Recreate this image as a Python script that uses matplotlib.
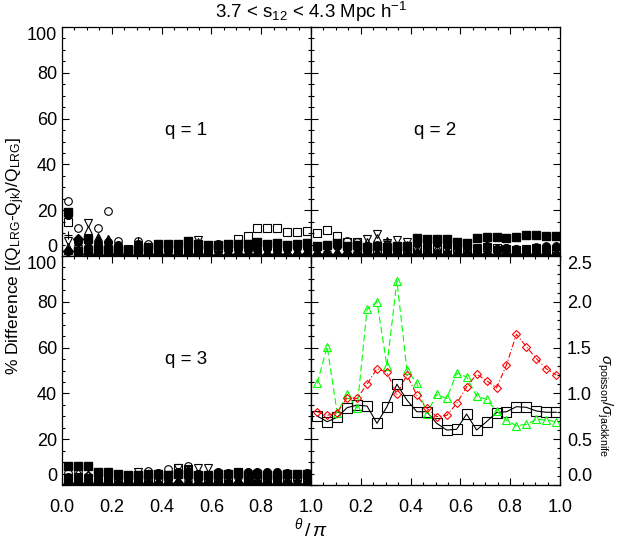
import numpy as np
import matplotlib
matplotlib.use('Agg')
import matplotlib.pyplot as plt
from matplotlib.ticker import MultipleLocator

plt.rcParams['font.family'] = ['Liberation Sans', 'DejaVu Sans']
plt.rcParams['mathtext.fontset'] = 'custom'
plt.rcParams['mathtext.rm'] = 'Liberation Sans'
plt.rcParams['mathtext.it'] = 'Liberation Sans:italic'
plt.rcParams['mathtext.bf'] = 'Liberation Sans:bold'

# theta / pi bin centres
theta = [0.025, 0.065, 0.105, 0.145, 0.185, 0.225, 0.265, 0.305, 0.345, 0.385,
         0.425, 0.465, 0.505, 0.545, 0.585, 0.625, 0.665, 0.705, 0.745, 0.785,
         0.825, 0.865, 0.905, 0.945, 0.985]

# q = 1 : percent differences
q1_fsq = [19.3, 2.3, 7.3, 3.0, 2.5, 3.0, 2.6, 3.0, 4.1, 5.4, 5.4, 5.4, 6.7, 5.4, 4.8,
          5.0, 5.4, 5.2, 5.4, 6.1, 5.4, 5.6, 5.0, 5.4, 5.8]
q1_fci = [17.9, 5.9, 4.0, 4.5, 5.9, 4.8, 2.0, 5.2, 3.0, 3.5, 3.2, 3.0, 3.6, 3.0, 3.2,
          5.4, 3.3, 3.0, 3.4, 3.2, 3.6, 3.0, 3.5, 3.8, 4.0]
q1_ftr = [2.6, 3.0, 2.0, 7.3, 7.3, 2.5, 1.5, 2.0, 1.8, 1.5, 2.0, 1.6, 1.8, 2.0, 1.5,
          1.7, 1.8, 1.6, 2.0, 1.8, 1.6, 1.9, 1.7, 1.5, 1.8]
q1_fdi = [2.0, 7.4, 0.8, 0.6, 0.5, 0.8, 0.5, 0.6, 0.5, 0.7, 0.5, 0.6, 0.5, 0.8, 0.5,
          0.6, 0.5, 0.7, 0.5, 0.6, 0.5, 0.8, 0.6, 0.5, 0.7]
q1_oci = [24.0, 12.1, 3.0, 12.1, 19.8, 6.5, 2.5, 6.7, 5.4, 3.0, 2.5, 3.0, 2.8, 3.5, 2.5,
          3.0, 2.6, 3.2, 2.8, 3.0, 3.5, 2.8, 3.0, 3.3, 3.5]
q1_osq = [15.0, 2.0, 2.5, 3.0, 2.0, 2.5, 3.0, 2.5, 2.0, 3.0, 3.5, 3.0, 3.0, 2.5, 3.0,
          3.5, 4.0, 7.4, 8.7, 12.1, 12.4, 12.4, 10.6, 10.6, 11.0]
q1_otr = [4.0, 3.0, 11.4, 8.3, 4.0, 3.0, 2.0, 2.5, 3.0, 2.0, 1.5, 2.0, 2.5, 6.0, 2.0,
          1.5, 2.0, 1.5, 2.0, 2.5, 2.0, 1.5, 2.0, 2.5, 2.0]
q1_oit = [6.7, 3.0, 14.5, 4.0, 3.0, 2.0, 2.5, 3.0, 2.0, 2.5, 3.0, 2.0, 3.0, 7.0, 2.5,
          2.0, 3.0, 2.5, 2.0, 2.5, 3.0, 2.0, 2.5, 3.0, 2.5]
q1_plus = [9.2, 2.0, 3.0, 2.5, 2.0, 1.5, 2.0, 6.7, 2.0, 1.5, 2.0, 1.0, 2.0, 2.5, 1.5,
           2.0, 1.0, 1.5, 2.0, 1.5, 1.0, 2.0, 1.5, 1.0, 1.5]

# q = 2
q2_fsq = [4.5, 5.0, 5.5, 4.5, 5.0, 4.0, 4.5, 4.0, 4.5, 4.5, 7.7, 7.3, 7.3, 7.3, 6.2,
          5.5, 7.7, 8.1, 8.1, 8.0, 8.4, 9.2, 9.2, 8.7, 8.7]
q2_fci = [4.0, 5.0, 4.5, 4.0, 4.0, 4.5, 4.0, 3.5, 3.5, 4.0, 5.5, 5.0, 5.5, 5.0, 4.5,
          4.5, 3.0, 4.5, 3.0, 3.5, 3.0, 3.0, 3.5, 4.0, 4.0]
q2_ftr = [2.0, 2.6, 1.8, 2.4, 2.1, 2.7, 1.9, 2.5, 2.2, 2.4, 2.0, 2.6, 1.8, 2.3, 2.1,
          1.9, 2.5, 2.0, 2.4, 1.8, 2.6, 2.1, 1.9, 2.4, 2.0]
q2_fdi = [0.6, 0.8, 0.5, 0.9, 0.6, 0.7, 0.5, 0.8, 0.6, 0.5, 0.7, 0.6, 0.9, 0.5, 0.6,
          0.8, 0.5, 0.7, 0.6, 0.5, 0.8, 0.6, 0.7, 0.5, 0.6]
q2_oci = [3.5, 4.5, 5.0, 6.5, 6.2, 4.0, 5.0, 4.5, 4.0, 3.5, 4.0, 4.5, 4.0, 5.0, 4.0,
          3.5, 3.0, 4.0, 3.0, 3.5, 3.0, 3.0, 4.0, 4.5, 4.5]
q2_osq = [9.9, 11.3, 8.7, 6.0, 6.2, 3.5, 3.0, 2.5, 3.0, 2.5, 3.5, 3.0, 4.0, 3.0, 3.5,
          2.5, 3.0, 4.0, 3.5, 3.0, 2.5, 3.0, 3.5, 3.0, 2.5]
q2_otr = [1.5, 2.5, 2.0, 3.0, 3.5, 6.0, 8.0, 6.7, 4.0, 5.0, 4.0, 4.5, 3.5, 3.0, 2.5,
          2.0, 2.5, 2.0, 1.5, 2.0, 2.5, 3.0, 3.5, 4.0, 4.5]
q2_oit = [2.0, 3.0, 3.5, 4.0, 4.5, 7.3, 9.6, 5.5, 7.0, 6.2, 6.0, 5.5, 6.0, 5.5, 3.0,
          2.5, 3.5, 3.0, 2.5, 2.0, 2.5, 2.0, 3.0, 2.5, 2.0]
q2_plus = [1.5, 2.0, 1.0, 2.5, 1.5, 2.0, 3.0, 6.7, 2.0, 1.5, 2.0, 1.5, 1.0, 2.0, 1.5,
           1.0, 2.0, 1.5, 1.0, 1.5, 2.0, 1.0, 1.5, 2.0, 1.5]

# q = 3
q3_fsq = [8.4, 8.4, 8.4, 5.8, 5.8, 4.8, 4.4, 4.5, 4.6, 5.0, 4.2, 4.8, 5.0, 4.5, 4.3,
          4.8, 4.6, 5.2, 4.5, 4.8, 4.2, 4.5, 4.8, 4.6, 4.8]
q3_fci = [3.5, 3.0, 3.2, 4.0, 3.5, 3.8, 3.0, 3.5, 4.0, 5.1, 3.6, 5.5, 6.0, 5.0, 4.0,
          5.5, 5.3, 4.5, 5.8, 5.5, 5.6, 5.8, 5.1, 5.0, 5.2]
q3_ftr = [1.5, 2.0, 1.8, 2.2, 1.6, 2.0, 1.7, 2.3, 1.9, 1.6, 2.1, 1.8, 2.4, 1.7, 2.0,
          1.9, 1.6, 2.2, 1.8, 2.0, 1.7, 2.1, 1.6, 1.9, 2.0]
q3_fdi = [0.5, 0.7, 0.6, 0.8, 0.5, 0.6, 0.7, 0.5, 0.8, 0.6, 0.5, 0.7, 0.6, 0.5, 0.8,
          0.6, 0.5, 0.7, 0.6, 0.8, 0.5, 0.6, 0.7, 0.5, 0.6]
q3_oci = [5.1, 6.1, 4.0, 3.5, 3.0, 3.5, 2.5, 4.0, 6.1, 4.0, 7.0, 5.5, 8.3, 5.0, 4.0,
          3.5, 3.0, 3.5, 4.0, 3.0, 3.5, 3.0, 2.5, 3.0, 3.5]
q3_osq = [3.0, 3.5, 2.5, 3.0, 2.5, 3.0, 3.5, 3.0, 2.5, 3.0, 4.0, 7.3, 6.5, 4.0, 3.5,
          3.0, 2.5, 5.8, 3.0, 3.5, 3.0, 2.5, 3.0, 3.5, 3.0]
q3_otr = [2.5, 5.5, 4.8, 3.0, 2.5, 2.0, 2.5, 3.0, 2.5, 2.0, 3.0, 2.5, 3.5, 3.0, 2.0,
          2.5, 2.0, 2.5, 3.0, 2.0, 2.5, 2.0, 2.5, 2.0, 2.5]
q3_oit = [2.0, 2.5, 3.0, 2.5, 2.0, 3.0, 2.5, 5.8, 3.0, 3.5, 4.5, 7.3, 7.0, 7.5, 7.3,
          3.0, 2.5, 5.8, 3.0, 2.5, 3.0, 2.0, 2.5, 3.0, 2.5]
q3_plus = [1.5, 2.0, 1.0, 1.5, 2.0, 1.0, 1.5, 2.0, 1.5, 1.0, 2.0, 1.5, 2.5, 1.5, 1.0,
           1.5, 2.0, 1.0, 1.5, 2.0, 1.5, 1.0, 1.5, 2.0, 1.0]

# sigma_poisson / sigma_jackknife
ratio_q1 = [0.753, 0.691, 0.739, 0.844, 0.873, 0.862, 0.673, 0.855, 1.10, 0.928,
            0.80, 0.80, 0.673, 0.60, 0.608, 0.775, 0.60, 0.691, 0.79, 0.80,
            0.855, 0.848, 0.808, 0.794, 0.794]
ratio_q2 = [1.11, 1.51, 0.79, 0.99, 0.837, 1.92, 2.00, 1.30, 2.23, 1.26,
            1.11, 0.78, 0.99, 0.945, 1.22, 1.18, 0.97, 0.935, 0.81, 0.71,
            0.647, 0.663, 0.717, 0.71, 0.69]
ratio_q3 = [0.80, 0.76, 0.79, 0.953, 0.945, 1.10, 1.27, 1.23, 0.99, 1.20,
            0.98, 0.837, 0.746, 0.76, 0.89, 1.07, 1.21, 1.14, 1.06, 1.31,
            1.645, 1.51, 1.38, 1.27, 1.20]

W, H = 623, 545
fig = plt.figure(figsize=(W / 100, H / 100), dpi=100)

x0, xm, x1 = 62 / W, 311 / W, 560 / W
yt, ym, yb = 1 - 27 / H, 1 - 256 / H, 1 - 485 / H
pw, ph = xm - x0, yt - ym

ax1 = fig.add_axes([x0, ym, pw, ph])
ax2 = fig.add_axes([xm, ym, pw, ph])
ax3 = fig.add_axes([x0, yb, pw, ym - yb])
ax4 = fig.add_axes([xm, yb, pw, ym - yb])


def scatter_panel(ax, fsq, fci, ftr, fdi, oci, osq, otr, oit, plus):
    ms = 5.5
    kw = dict(ls='none', color='black')
    ax.plot(theta, fdi, marker='D', ms=ms - 0.5, **kw)
    ax.plot(theta, ftr, marker='^', ms=ms, **kw)
    ax.plot(theta, fci, marker='o', ms=ms, **kw)
    ax.plot(theta, fsq, marker='s', ms=ms, **kw)
    okw = dict(ls='none', color='black', mfc='none', mew=0.8)
    ax.plot(theta, oci, marker='o', ms=ms, **okw)
    ax.plot(theta, osq, marker='s', ms=ms, **okw)
    ax.plot(theta, otr, marker='^', ms=ms, **okw)
    ax.plot(theta, oit, marker='v', ms=ms, **okw)
    ax.plot(theta, plus, marker='+', ms=ms, ls='none', color='black', mew=0.8)


scatter_panel(ax1, q1_fsq, q1_fci, q1_ftr, q1_fdi, q1_oci, q1_osq, q1_otr, q1_oit, q1_plus)
scatter_panel(ax2, q2_fsq, q2_fci, q2_ftr, q2_fdi, q2_oci, q2_osq, q2_otr, q2_oit, q2_plus)
scatter_panel(ax3, q3_fsq, q3_fci, q3_ftr, q3_fdi, q3_oci, q3_osq, q3_otr, q3_oit, q3_plus)

for ax in (ax1, ax2, ax3, ax4):
    ax.set_xlim(0, 1)
    ax.set_ylim(0, 100)
    ax.xaxis.set_minor_locator(MultipleLocator(0.05))
    ax.set_yticks([0, 20, 40, 60, 80, 100])
    ax.yaxis.set_minor_locator(MultipleLocator(5))
    ax.tick_params(which='both', direction='in', top=True, right=True, labelsize=13)
    ax.tick_params(which='major', length=5, width=0.8)
    ax.tick_params(which='minor', length=2.5, width=0.8)
    ax.tick_params(axis='x', pad=10)
    for s in ax.spines.values():
        s.set_linewidth(0.9)

ax1.set_xticks([0, 0.2, 0.4, 0.6, 0.8, 1.0])
ax2.set_xticks([0, 0.2, 0.4, 0.6, 0.8, 1.0])
ax3.set_xticks([0, 0.2, 0.4, 0.6, 0.8, 1.0])
ax3.set_xticklabels(['0.0', '0.2', '0.4', '0.6', '0.8', '1.0'])
ax4.set_xticks([0, 0.2, 0.4, 0.6, 0.8, 1.0])
ax4.set_xticklabels(['', '0.2', '0.4', '0.6', '0.8', '1.0'])

for ax in (ax1, ax2):
    ax.tick_params(labelbottom=False)
for ax in (ax2, ax4):
    ax.tick_params(labelleft=False)
ax4.tick_params(right=False, which='both')

# keep end labels inside the panels
for ax in (ax1, ax3):
    lab = ax.get_yticklabels()
    lab[0].set_va('bottom')
    lab[-1].set_va('top')

axr = ax4.twinx()
axr.set_position([xm, yb, pw, ym - yb])
axr.set_ylim(0, 2.5)
axr.set_yticks([0.0, 0.5, 1.0, 1.5, 2.0, 2.5])
axr.set_yticklabels(['0.0', '0.5', '1.0', '1.5', '2.0', '2.5'])
axr.yaxis.set_minor_locator(MultipleLocator(0.1))
axr.tick_params(which='both', direction='in', labelsize=13, pad=5)
axr.tick_params(which='major', length=5, width=0.8)
axr.tick_params(which='minor', length=2.5, width=0.8)
lab = axr.get_yticklabels()
lab[0].set_va('bottom')
lab[-1].set_va('top')

axr.plot(theta, ratio_q1, color='black', ls='-', lw=0.8, marker='s', ms=6.5,
         mfc='none', mec='black', mew=0.8)
axr.plot(theta, ratio_q2, color='#00ff00', ls=(0, (6, 3)), lw=0.8, marker='^', ms=6,
         mfc='none', mec='#00ff00', mew=0.8)
axr.plot(theta, ratio_q3, color='#ff0000', ls=(0, (5, 2, 1, 2)), lw=0.8, marker='D',
         ms=4.5, mfc='none', mec='#ff0000', mew=0.8)

ax1.text(0.5, 0.55, 'q = 1', transform=ax1.transAxes, ha='center', va='center', fontsize=13.5)
ax2.text(0.5, 0.55, 'q = 2', transform=ax2.transAxes, ha='center', va='center', fontsize=13.5)
ax3.text(0.5, 0.55, 'q = 3', transform=ax3.transAxes, ha='center', va='center', fontsize=13.5)

fig.text(311 / W, 1 - 12 / H, r'3.7 < s$_{12}$ < 4.3 Mpc h$^{-1}$',
         ha='center', va='center', fontsize=13.5)
fig.text(16 / W, 1 - 256 / H, r'% Difference [(Q$_{\rm LRG}$-Q$_{\rm jk}$)/Q$_{\rm LRG}$]',
         rotation=90, ha='center', va='center', fontsize=12.5)
fig.text(311 / W, 1 - 528 / H, r'$^{\theta}\,/\,\pi$', ha='center', va='center', fontsize=14)
fig.text(605 / W, 1 - 405 / H, r'$\sigma_{\rm poisson}/\sigma_{\rm jackknife}$',
         rotation=270, ha='center', va='center', fontsize=11)

fig.savefig('out.png', dpi=100)
